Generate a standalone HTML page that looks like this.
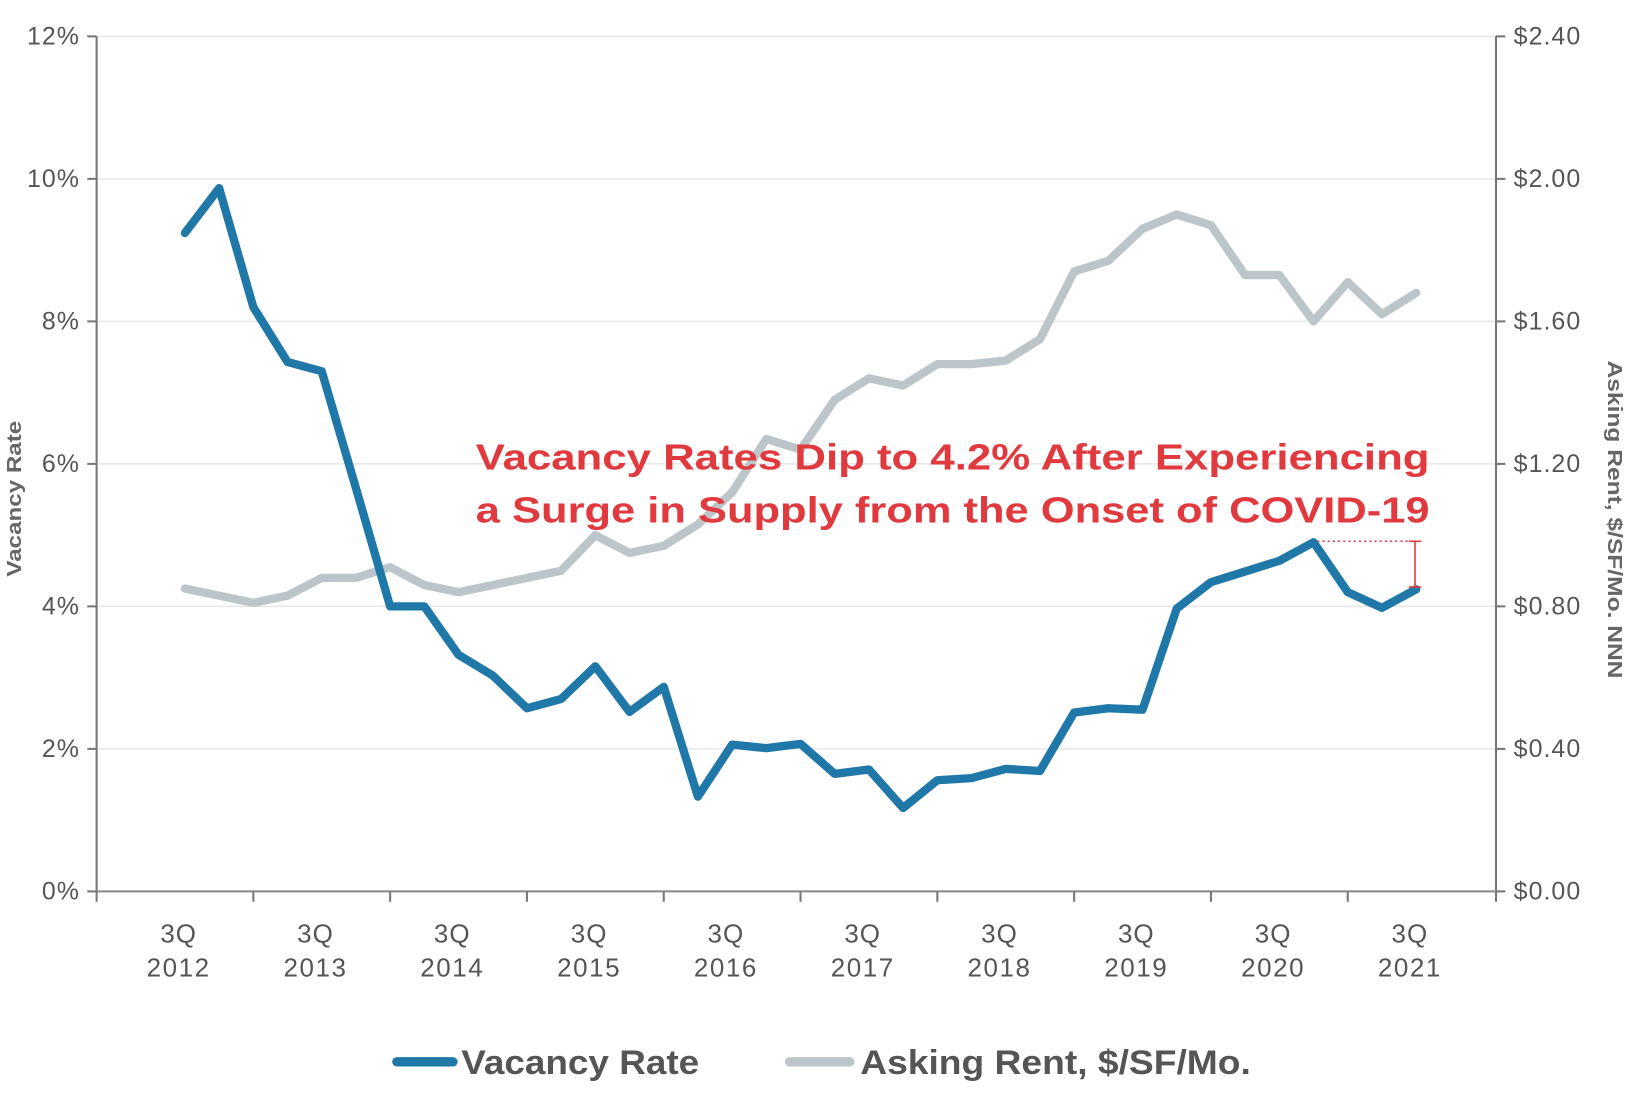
<!DOCTYPE html>
<html><head><meta charset="utf-8"><style>
html,body{margin:0;padding:0;background:#fff;}
svg{display:block;font-family:"Liberation Sans",sans-serif;}
</style></head><body>
<svg id="chart" width="1629" height="1105" viewBox="0 0 1568 1063.6" xmlns="http://www.w3.org/2000/svg">
<g id="grid"></g>
<g id="axes"></g>
<g id="series"></g>
<text transform="translate(20,480) rotate(-90)" text-anchor="middle" font-size="20" font-weight="bold" fill="#666" textLength="150" lengthAdjust="spacingAndGlyphs">Vacancy Rate</text>
<text transform="translate(1548,500) rotate(90)" text-anchor="middle" font-size="20" font-weight="bold" fill="#666" textLength="306" lengthAdjust="spacingAndGlyphs">Asking Rent, $/SF/Mo. NNN</text>
<g>
<text x="458" y="452" font-size="35" font-weight="bold" fill="#e0393e" textLength="918" lengthAdjust="spacingAndGlyphs">Vacancy Rates Dip to 4.2% After Experiencing</text>
<text x="458" y="503" font-size="35" font-weight="bold" fill="#e0393e" textLength="918" lengthAdjust="spacingAndGlyphs">a Surge in Supply from the Onset of COVID-19</text>
<line x1="1268" y1="521" x2="1362" y2="521" stroke="#e0393e" stroke-width="1.5" stroke-dasharray="2,3"/>
<line x1="1362" y1="521" x2="1362" y2="565" stroke="#e0393e" stroke-width="1.5"/>
<line x1="1356" y1="521" x2="1368" y2="521" stroke="#e0393e" stroke-width="1.5"/>
<line x1="1356" y1="565" x2="1368" y2="565" stroke="#e0393e" stroke-width="1.5"/>
</g>
<g>
<line x1="382" y1="1022" x2="436" y2="1022" stroke="#1f78a8" stroke-width="9" stroke-linecap="round"/>
<text x="444" y="1034" font-size="33" font-weight="bold" fill="#555" textLength="229" lengthAdjust="spacingAndGlyphs">Vacancy Rate</text>
<line x1="760" y1="1022" x2="818" y2="1022" stroke="#bcc5c9" stroke-width="9" stroke-linecap="round"/>
<text x="828" y="1034" font-size="33" font-weight="bold" fill="#555" textLength="376" lengthAdjust="spacingAndGlyphs">Asking Rent, $/SF/Mo.</text>
</g>
</svg>
<script>
const vacancy = [9.24,9.87,8.2,7.43,7.3,5.66,4.0,4.0,3.32,3.03,2.57,2.7,3.16,2.52,2.87,1.33,2.06,2.01,2.07,1.65,1.71,1.17,1.56,1.59,1.72,1.69,2.51,2.57,2.55,3.97,4.34,4.49,4.64,4.9,4.2,3.98,4.24];
const rent = [0.85,0.83,0.81,0.83,0.88,0.88,0.91,0.86,0.84,0.86,0.88,0.90,1.0,0.95,0.97,1.03,1.12,1.27,1.24,1.38,1.44,1.42,1.48,1.48,1.49,1.55,1.74,1.77,1.86,1.90,1.87,1.73,1.73,1.60,1.71,1.62,1.68];
const leftTicks = ["0%","2%","4%","6%","8%","10%","12%"];
const rightTicks = ["$0.00","$0.40","$0.80","$1.20","$1.60","$2.00","$2.40"];
const yearLabels = ["2012","2013","2014","2015","2016","2017","2018","2019","2020","2021"];

const NS="http://www.w3.org/2000/svg";
const X0=178, DX=32.92, Y0=858, YT=35, AXL=93, AXR=1440;
const xs=i=>X0+i*DX;
const yv=v=>Y0-(v/12)*(Y0-YT);
const yr=r=>Y0-(r/2.4)*(Y0-YT);
function mk(tag,attrs,parent){const e=document.createElementNS(NS,tag);for(const k in attrs)e.setAttribute(k,attrs[k]);parent.appendChild(e);return e;}
const grid=document.getElementById('grid'), axes=document.getElementById('axes'), series=document.getElementById('series');
leftTicks.forEach((t,i)=>{
  const y=yv(i*2);
  if(i>0){const g=mk('line',{x1:AXL,x2:AXR,y1:y,y2:y,stroke:'#e6e6e6','stroke-width':1.5},grid);
  
  }
  mk('line',{x1:AXL-9,x2:AXL,y1:y,y2:y,stroke:'#777','stroke-width':2},axes);
  mk('line',{x1:AXR,x2:AXR+9,y1:y,y2:y,stroke:'#777','stroke-width':2},axes);
  const l=mk('text',{x:AXL-16,y:y+8,'text-anchor':'end','font-size':24,'letter-spacing':1,fill:'#555'},axes);
  l.textContent=t;
  
  
  const r=mk('text',{x:AXR+17,y:y+8,'font-size':24,'letter-spacing':1,fill:'#555'},axes);
  r.textContent=rightTicks[i];
  
  
});
mk('line',{x1:AXL,x2:AXL,y1:YT,y2:Y0,stroke:'#777','stroke-width':2},axes);
mk('line',{x1:AXR,x2:AXR,y1:YT,y2:Y0+10,stroke:'#777','stroke-width':2},axes);
mk('line',{x1:AXL,x2:AXR,y1:Y0,y2:Y0,stroke:'#888','stroke-width':2},axes);
mk('line',{x1:AXL,x2:AXL,y1:Y0,y2:Y0+10,stroke:'#777','stroke-width':2},axes);
for(let k=0;k<9;k++){const x=xs(2+4*k);mk('line',{x1:x,x2:x,y1:Y0,y2:Y0+10,stroke:'#777','stroke-width':2},axes);}
yearLabels.forEach((yl,k)=>{
  const x=xs(4*k)-6;
  const t1=mk('text',{x:x,y:907,'text-anchor':'middle','font-size':25,'letter-spacing':1,fill:'#555'},axes);
  t1.textContent='3Q';
  
  
  const t2=mk('text',{x:x,y:940,'text-anchor':'middle','font-size':25,'letter-spacing':1.5,fill:'#555'},axes);
  t2.textContent=yl;
  
  
});
const rp=mk('polyline',{points:rent.map((r,i)=>xs(i)+','+yr(r)).join(' '),fill:'none',stroke:'#bcc5c9','stroke-width':8,'stroke-linejoin':'round','stroke-linecap':'round'},series);


const vp=mk('polyline',{points:vacancy.map((v,i)=>xs(i)+','+yv(v)).join(' '),fill:'none',stroke:'#1f78a8','stroke-width':8,'stroke-linejoin':'round','stroke-linecap':'round'},series);


</script>
</body></html>
